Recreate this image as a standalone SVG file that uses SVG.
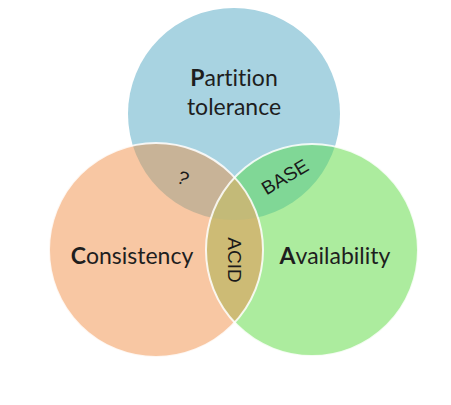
<svg xmlns="http://www.w3.org/2000/svg" width="451" height="405" viewBox="0 0 451 405">
<style>
.lbl{font-family:Lato,"Open Sans","Liberation Sans",sans-serif;font-size:23px;fill:#1e1e1e;font-variant-ligatures:none}
.b{font-weight:bold}
.sm{font-family:"Liberation Sans",Arial,sans-serif;font-size:19px;fill:#1a1a1a}
.edge{fill:none;stroke:#ffffff;stroke-width:2;stroke-opacity:0.85}
</style>
<defs>
<clipPath id="cP"><circle cx="234" cy="114" r="106"/></clipPath>
<clipPath id="cC"><circle cx="156" cy="250" r="107"/></clipPath>
<clipPath id="cA"><circle cx="312" cy="250" r="106"/></clipPath>
</defs>
<rect width="451" height="405" fill="#ffffff"/>
<g id="partition">
<circle cx="234" cy="114" r="106" fill="#A8D3E1"/>
</g>
<g id="consistency">
<circle cx="156" cy="250" r="107" fill="#F8C7A3"/>
</g>
<g id="availability">
<circle cx="312" cy="250" r="106" fill="#ACEC9E"/>
</g>
<g id="overlaps">
<g clip-path="url(#cP)"><circle cx="156" cy="250" r="107" fill="#C8B397"/><circle cx="312" cy="250" r="106" fill="#80D796"/></g>
<g clip-path="url(#cC)"><circle cx="312" cy="250" r="106" fill="#CDBB75"/></g>
<g clip-path="url(#cC)"><g clip-path="url(#cP)"><circle cx="312" cy="250" r="106" fill="#C3BA78"/></g></g>
</g>
<g id="edges">
<circle class="edge" cx="156" cy="250" r="107"/>
<circle class="edge" cx="312" cy="250" r="106"/>
</g>
<g id="labels">
<text class="lbl" x="234" y="86" text-anchor="middle"><tspan class="b">P</tspan>artition</text>
<text class="lbl" x="234" y="115" text-anchor="middle">tolerance</text>
<text class="lbl" x="132" y="264" text-anchor="middle"><tspan class="b">C</tspan>onsistency</text>
<text class="lbl" x="335" y="264" text-anchor="middle"><tspan class="b">A</tspan>vailability</text>
<text class="sm" font-size="15" transform="translate(183,178) rotate(25)" text-anchor="middle" dominant-baseline="central">?</text>
<text class="sm" transform="translate(285,177) rotate(-31)" text-anchor="middle" dominant-baseline="central">BASE</text>
<text class="sm" transform="translate(234,260) rotate(90)" text-anchor="middle" dominant-baseline="central">ACID</text>
</g>
</svg>
